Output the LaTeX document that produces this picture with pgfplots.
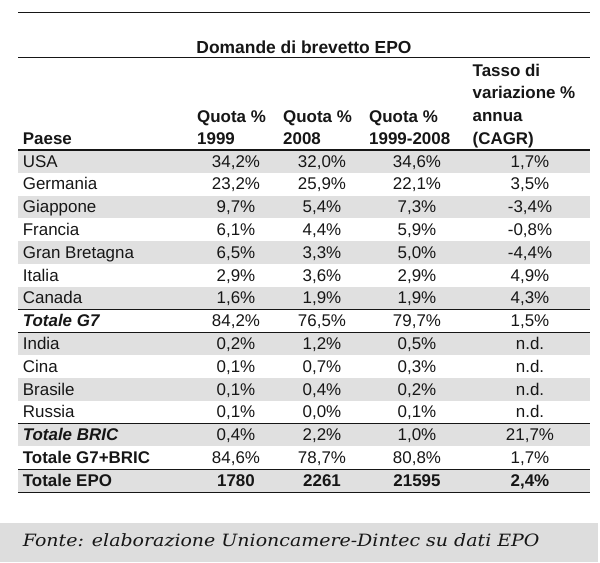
\documentclass[border=0pt]{standalone}
\usepackage{pgfplots}
\pgfplotsset{compat=1.18}
\usepackage{pgfplotstable}
\usepackage{fontspec}
\setmainfont{Liberation Sans}
\newfontfamily\fontefont{DejaVu Serif}
\definecolor{rowgray}{RGB}{224,224,224}
\definecolor{footgray}{RGB}{221,221,221}
\definecolor{ink}{RGB}{22,22,22}
\newcommand{\tabfont}{\fontsize{17}{20}\selectfont}

% one row per country, shares in %
\pgfplotstableread[col sep=semicolon]{
r;name;a;b;c;d
0;USA;34.2;32.0;34.6;1.7
1;Germania;23.2;25.9;22.1;3.5
2;Giappone;9.7;5.4;7.3;-3.4
3;Francia;6.1;4.4;5.9;-0.8
4;Gran Bretagna;6.5;3.3;5.0;-4.4
5;Italia;2.9;3.6;2.9;4.9
6;Canada;1.6;1.9;1.9;4.3
7;\textbf{\textit{Totale G7}};84.2;76.5;79.7;1.5
8;India;0.2;1.2;0.5;nan
9;Cina;0.1;0.7;0.3;nan
10;Brasile;0.1;0.4;0.2;nan
11;Russia;0.1;0.0;0.1;nan
12;\textbf{\textit{Totale BRIC}};0.4;2.2;1.0;21.7
13;\textbf{Totale G7+BRIC};84.6;78.7;80.8;1.7
14;\textbf{Totale EPO};0;0;0;0
}\shares

% totals (number of applications)
\pgfplotstableread[col sep=semicolon]{
r;a;b;c;d
14;1780;2261;21595;2.4
}\totals

\pgfplotstableread[col sep=semicolon]{
r;txt
8;n.d.
9;n.d.
10;n.d.
11;n.d.
}\nodata

\pgfplotsset{
  cell/.style={draw=none, mark=none, nodes near coords, point meta=explicit},
  pct/.style={nodes near coords={\pgfmathprintnumber[use comma,fixed,fixed zerofill,precision=1,assume math mode=true]{\pgfplotspointmeta}\%}},
  count/.style={nodes near coords={\pgfmathprintnumber[fixed,precision=0,1000 sep={},assume math mode=true]{\pgfplotspointmeta}},
    every node near coord/.append style={font=\tabfont\bfseries}},
}

\begin{document}
\begin{tikzpicture}
\begin{axis}[
    width=600bp, height=562bp, scale only axis,
    xmin=0, xmax=600, ymin=0, ymax=562, y dir=reverse,
    hide axis, clip=false,
    every node near coord/.append style={font=\tabfont, text=ink, inner sep=0pt, anchor=base},
]
% keep the full page area
\path (axis cs:0,0) rectangle (axis cs:600,562);
% striped rows
\pgfplotsinvokeforeach{0,2,4,6,8,10,12,14}{
  \fill[rowgray] (axis cs:18,{150+22.8*#1}) rectangle (axis cs:590,{150+22.8*(#1+1)});
}
% rules
\draw[ink, line width=1bp] (axis cs:18,12.3) -- (axis cs:590,12.3);
\draw[ink, line width=1bp] (axis cs:18,57.7) -- (axis cs:590,57.7);
\draw[ink, line width=1.2bp] (axis cs:18,150) -- (axis cs:590,150);
\pgfplotsinvokeforeach{7,8,12,14,15}{
  \draw[ink, line width=1bp] (axis cs:18,{150+22.8*#1}) -- (axis cs:590,{150+22.8*#1});
}

% header
\node[font=\fontsize{17.5}{20}\selectfont\bfseries, text=ink, anchor=base] at (axis cs:304,53.3) {Domande di brevetto EPO};
\begin{scope}[every node/.style={font=\tabfont\bfseries, text=ink, anchor=base west, inner sep=0pt}]
\node at (axis cs:22.7,144) {Paese};
\node at (axis cs:197,122.5) {Quota \%};
\node at (axis cs:197,144) {1999};
\node at (axis cs:283,122.5) {Quota \%};
\node at (axis cs:283,144) {2008};
\node at (axis cs:369,122.5) {Quota \%};
\node at (axis cs:369,144) {1999-2008};
\node at (axis cs:472.5,76) {Tasso di};
\node at (axis cs:472.5,98.7) {variazione \%};
\node at (axis cs:472.5,121.4) {annua};
\node at (axis cs:472.5,144) {(CAGR)};
\end{scope}

% country names
\addplot[cell, point meta=explicit symbolic, every node near coord/.append style={anchor=base west}]
  table[x expr=22.7, y expr={150+22.8*\thisrow{r}+17}, meta=name] {\shares};
% shares
\addplot[cell, pct, skip coords between index={14}{15}]
  table[x expr=236, y expr={150+22.8*\thisrow{r}+17}, meta=a] {\shares};
\addplot[cell, pct, skip coords between index={14}{15}]
  table[x expr=322, y expr={150+22.8*\thisrow{r}+17}, meta=b] {\shares};
\addplot[cell, pct, skip coords between index={14}{15}]
  table[x expr=417, y expr={150+22.8*\thisrow{r}+17}, meta=c] {\shares};
\addplot[cell, pct, skip coords between index={8}{12}, skip coords between index={14}{15}]
  table[x expr=530, y expr={150+22.8*\thisrow{r}+17}, meta=d] {\shares};
\addplot[cell, point meta=explicit symbolic]
  table[x expr=530, y expr={150+22.8*\thisrow{r}+17}, meta=txt] {\nodata};
% totals row
\addplot[cell, count] table[x expr=236, y expr={150+22.8*\thisrow{r}+17}, meta=a] {\totals};
\addplot[cell, count] table[x expr=322, y expr={150+22.8*\thisrow{r}+17}, meta=b] {\totals};
\addplot[cell, count] table[x expr=417, y expr={150+22.8*\thisrow{r}+17}, meta=c] {\totals};
\addplot[cell, pct, every node near coord/.append style={font=\tabfont\bfseries}]
  table[x expr=530, y expr={150+22.8*\thisrow{r}+17}, meta=d] {\totals};

% source band
\fill[footgray] (axis cs:0,523) rectangle (axis cs:598,562);
\node[font=\fontefont\itshape\fontsize{17}{20}\selectfont, text=ink, anchor=base west, inner sep=0pt, xscale=1.12]
  at (axis cs:22.7,546.5) {Fonte: elaborazione Unioncamere-Dintec su dati EPO};
\end{axis}
\end{tikzpicture}
\end{document}
